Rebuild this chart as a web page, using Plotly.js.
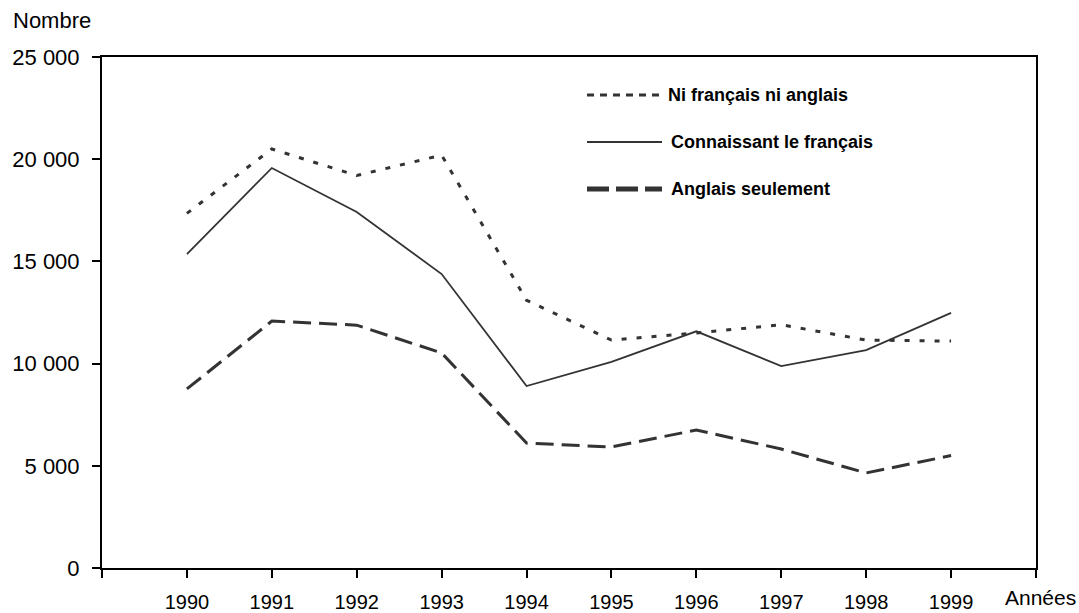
<!DOCTYPE html>
<html>
<head>
<meta charset="utf-8">
<script src="https://cdn.plot.ly/plotly-3.0.1.min.js"></script>
<style>html,body{margin:0;padding:0;background:#fff;}#chart{width:1079px;height:613px;}</style>
</head>
<body>
<div id="chart"></div>
<script>
const years = [1990, 1991, 1992, 1993, 1994, 1995, 1996, 1997, 1998, 1999];
const niFrancaisNiAnglais = [17350, 20500, 19200, 20200, 13100, 11150, 11500, 11900, 11150, 11100];
const connaissantFrancais = [15360, 19570, 17420, 14380, 8900, 10080, 11580, 9880, 10660, 12480];
const anglaisSeulement = [8760, 12080, 11880, 10520, 6110, 5920, 6750, 5820, 4650, 5500];
const seriesNames = ["Ni français ni anglais", "Connaissant le français", "Anglais seulement"];
const yTickVals = [0, 5000, 10000, 15000, 20000, 25000];
const yTickText = ["0", "5 000", "10 000", "15 000", "20 000", "25 000"];
const xTickVals = [1989, 1990, 1991, 1992, 1993, 1994, 1995, 1996, 1997, 1998, 1999, 2000];
const xTickText = ["", "1990", "1991", "1992", "1993", "1994", "1995", "1996", "1997", "1998", "1999", ""];
const yAxisLabel = "Nombre";
const xAxisLabel = "Années";

const font = "Liberation Sans, Arial, sans-serif";
const traces = [
  {x: years, y: niFrancaisNiAnglais, name: seriesNames[0], mode: "lines",
   line: {color: "#333333", width: 3, dash: "5px,10px"}},
  {x: years, y: connaissantFrancais, name: seriesNames[1], mode: "lines",
   line: {color: "#333333", width: 1.8}},
  {x: years, y: anglaisSeulement, name: seriesNames[2], mode: "lines",
   line: {color: "#333333", width: 3, dash: "18px,8px"}}
];

const legX0 = 587, legX1 = 662, legY = [95, 142, 189];
const W = 1079, H = 613, ml = 102, mr = 43, mt = 57, mb = 45;
const pw = W - ml - mr, ph = H - mt - mb;
function px(x){ return (x - ml) / pw; }
function py(y){ return (H - mb - y) / ph; }
const legStyles = [
  {color: "#333333", width: 3, dash: "7px,6px"},
  {color: "#333333", width: 1.8, dash: "solid"},
  {color: "#333333", width: 5, dash: "22px,7px"}
];
const shapes = [], annotations = [];
for (let i = 0; i < 3; i++) {
  shapes.push({type: "line", xref: "paper", yref: "paper",
    x0: px(legX0), x1: px(legX1), y0: py(legY[i]), y1: py(legY[i]),
    line: legStyles[i]});
  annotations.push({xref: "paper", yref: "paper", x: px(i === 0 ? 666 : 669), y: py(legY[i]),
    xanchor: "left", yanchor: "middle", showarrow: false, text: "<b>" + seriesNames[i] + "</b>",
    font: {family: font, size: 18, color: "#000"}});
}
annotations.push({xref: "paper", yref: "paper", x: px(11), y: py(20), xanchor: "left", yanchor: "middle",
  showarrow: false, text: yAxisLabel, font: {family: font, size: 22, color: "#000"}});
annotations.push({xref: "paper", yref: "paper", x: px(1040), y: py(597), xanchor: "center", yanchor: "middle",
  showarrow: false, text: xAxisLabel, font: {family: font, size: 21, color: "#000"}});

const layout = {
  width: W, height: H,
  margin: {l: ml, r: mr, t: mt, b: mb},
  paper_bgcolor: "#fff", plot_bgcolor: "#fff",
  showlegend: false,
  font: {family: font, size: 20, color: "#000"},
  xaxis: {range: [1989, 2000], tickvals: xTickVals, ticktext: xTickText,
    showgrid: false, zeroline: false, showline: true, linecolor: "#000", linewidth: 2, mirror: true,
    ticks: "outside", ticklen: 8, tickwidth: 2, tickcolor: "#000", ticklabelstandoff: 7,
    tickfont: {family: font, size: 20, color: "#000"}},
  yaxis: {range: [0, 25000], tickvals: yTickVals, ticktext: yTickText,
    showgrid: false, zeroline: false, showline: true, linecolor: "#000", linewidth: 2, mirror: true,
    ticks: "outside", ticklen: 8, tickwidth: 2, tickcolor: "#000", ticklabelstandoff: 8,
    tickfont: {family: font, size: 22, color: "#000"}},
  shapes: shapes,
  annotations: annotations
};
Plotly.newPlot("chart", traces, layout, {displayModeBar: false, staticPlot: true});
</script>
</body>
</html>
